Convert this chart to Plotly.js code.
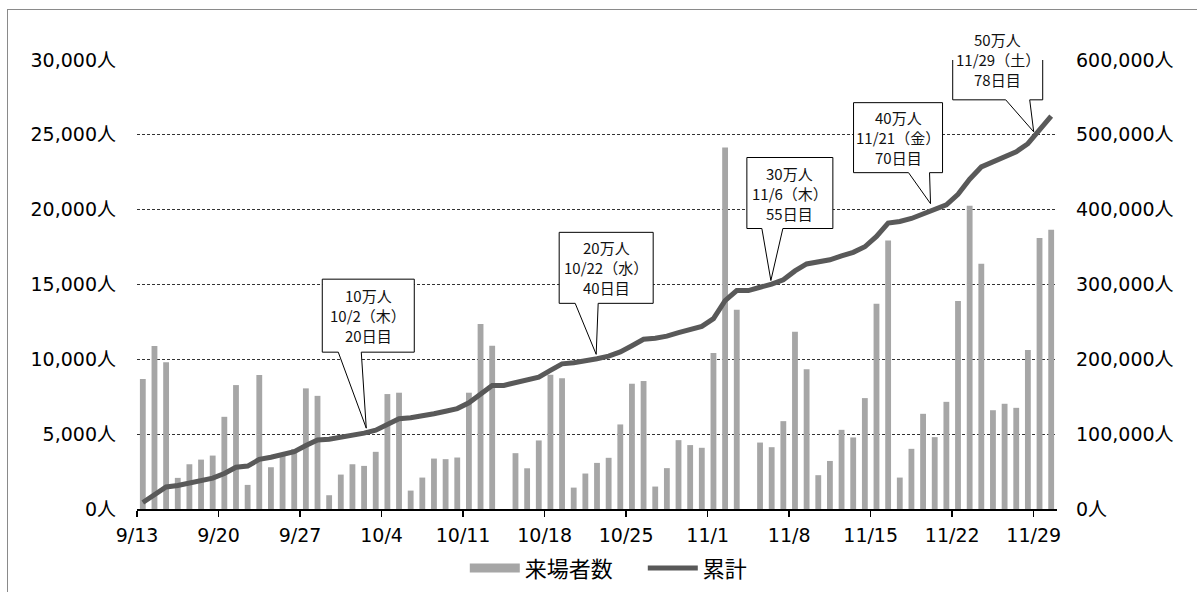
<!DOCTYPE html>
<html>
<head>
<meta charset="utf-8">
<script src="https://cdn.plot.ly/plotly-3.0.1.min.js"></script>
<style>
  html, body { margin: 0; padding: 0; background: #fff; }
  #wrap { position: relative; width: 1197px; height: 592px; }
  #chart { width: 1197px; height: 592px; }
  #frame { position: absolute; left: 7px; top: 9px; width: 1300px; height: 700px;
           border-left: 1px solid #8a8a8a; border-top: 1px solid #8a8a8a; pointer-events: none; }
</style>
</head>
<body>
<div id="wrap">
  <div id="chart"></div>
  <div id="frame"></div>
</div>
<script>
// ---- data ----
const dates = [
  '2014-09-13','2014-09-14','2014-09-15','2014-09-16','2014-09-17','2014-09-18','2014-09-19',
  '2014-09-20','2014-09-21','2014-09-22','2014-09-23','2014-09-24','2014-09-25','2014-09-26',
  '2014-09-27','2014-09-28','2014-09-29','2014-09-30','2014-10-01','2014-10-02','2014-10-03',
  '2014-10-04','2014-10-05','2014-10-06','2014-10-07','2014-10-08','2014-10-09','2014-10-10',
  '2014-10-11','2014-10-12','2014-10-13','2014-10-14','2014-10-15','2014-10-16','2014-10-17',
  '2014-10-18','2014-10-19','2014-10-20','2014-10-21','2014-10-22','2014-10-23','2014-10-24',
  '2014-10-25','2014-10-26','2014-10-27','2014-10-28','2014-10-29','2014-10-30','2014-10-31',
  '2014-11-01','2014-11-02','2014-11-03','2014-11-04','2014-11-05','2014-11-06','2014-11-07',
  '2014-11-08','2014-11-09','2014-11-10','2014-11-11','2014-11-12','2014-11-13','2014-11-14',
  '2014-11-15','2014-11-16','2014-11-17','2014-11-18','2014-11-19','2014-11-20','2014-11-21',
  '2014-11-22','2014-11-23','2014-11-24','2014-11-25','2014-11-26','2014-11-27','2014-11-28',
  '2014-11-29','2014-11-30'
];
const visitors = [
  8680,10890,9800,2080,2990,3300,3570,
  6160,8280,1610,8950,2790,3600,4000,
  8060,7560,920,2300,2990,2880,3820,
  7680,7770,1230,2100,3370,3330,3440,
  7770,12360,10910,0,3730,2720,4580,
  8970,8730,1430,2370,3080,3420,5650,
  8370,8550,1500,2730,4600,4270,4090,
  10420,24160,13320,0,4440,4130,5870,
  11850,9330,2260,3210,5290,4780,7410,
  13720,17940,2100,4020,6360,4800,7160,
  13900,20260,16380,6600,7030,6760,10620,
  18100,18660
];
const cumulative = [
  8680,19570,29370,31450,34440,37740,41310,
  47470,55750,57360,66310,69100,72700,76700,
  84760,92320,93240,95540,98530,101410,105230,
  112910,120680,121910,124010,127380,130710,134150,
  141920,154280,165190,165190,168920,171640,176220,
  185190,193920,195350,197720,200800,204220,209870,
  218240,226790,228290,231020,235620,239890,243980,
  254400,278560,291880,291880,296320,300450,306320,
  318170,327500,329760,332970,338260,343040,350450,
  364170,382110,384210,388230,394590,399390,406550,
  420450,440710,457090,463690,470720,477480,488100,
  506200,524860
];
const tickDates  = ['2014-09-13','2014-09-20','2014-09-27','2014-10-04','2014-10-11','2014-10-18',
                    '2014-10-25','2014-11-01','2014-11-08','2014-11-15','2014-11-22','2014-11-29'];
const tickLabels = ['9/13','9/20','9/27','10/4','10/11','10/18','10/25','11/1','11/8','11/15','11/22','11/29'];
const seriesNames = ['来場者数', '累計'];

// milestones (callouts)
const milestoneDates  = ['2014-10-02','2014-10-22','2014-11-06','2014-11-21','2014-11-29'];
const milestoneValues = [100000, 200000, 300000, 400000, 500000];
const milestoneTexts  = [
  ['10万人', '10/2（木）', '20日目'],
  ['20万人', '10/22（水）', '40日目'],
  ['30万人', '11/6（木）', '55日目'],
  ['40万人', '11/21（金）', '70日目'],
  ['50万人', '11/29（土）', '78日目']
];

// ---- styling / callout geometry (pixels, relative to the anchor, y up) ----
const calloutGeom = [
  {tip:[8,6],   box:[-36,56,  82,155], wedge:[-20,3]},
  {tip:[5,5],   box:[-32,62,  56,127], wedge:[-16,7]},
  {tip:[5,4],   box:[-19,67,  56,127], wedge:[-4,17]},
  {tip:[-10,6], box:[-87,2,   37,107], wedge:[-32,-11]},
  {tip:[0,3],   box:[-81,9,   35,115], wedge:[-28,-4]}
];

const BAR = '#a6a6a6';
const LINE = '#595959';
const FONT = '"Noto Sans CJK JP", "Noto Sans", sans-serif';
const TICKFONT = '"DejaVu Sans", "Noto Sans CJK JP", sans-serif';
const DAY = 86400000;

const traces = [
  {
    type: 'bar', x: dates, y: visitors, name: seriesNames[0],
    xperiod: DAY, xperiodalignment: 'middle',
    marker: {color: BAR, line: {width: 0}},
    showlegend: false, hoverinfo: 'x+y'
  },
  {
    // legend entry for the bars (drawn as a wide flat swatch like the original)
    type: 'scatter', mode: 'lines', x: [null], y: [null], name: seriesNames[0],
    line: {color: BAR, width: 9}, showlegend: true, hoverinfo: 'skip'
  },
  {
    type: 'scatter', mode: 'lines', x: dates, y: cumulative, name: seriesNames[1],
    xperiod: DAY, xperiodalignment: 'middle', yaxis: 'y2',
    line: {color: LINE, width: 5}, showlegend: true
  }
];

const shapes = [];
const annotations = [];
milestoneDates.forEach((d, i) => {
  const g = calloutGeom[i];
  const [tx, ty] = g.tip;
  const [x0, x1, yb, yt] = g.box;
  const [wl, wr] = g.wedge;
  shapes.push({
    type: 'path', xref: 'x', yref: 'y2',
    xsizemode: 'pixel', ysizemode: 'pixel',
    xanchor: d, yanchor: milestoneValues[i],
    path: `M${tx},${ty} L${wr},${yb} L${x1},${yb} L${x1},${yt} L${x0},${yt} L${x0},${yb} L${wl},${yb} Z`,
    fillcolor: '#ffffff', line: {color: '#000000', width: 1}, layer: 'above'
  });
  const cx = (x0 + x1) / 2, cy = (yb + yt) / 2;
  milestoneTexts[i].forEach((t, k) => {
    annotations.push({
      x: d, y: milestoneValues[i], xref: 'x', yref: 'y2',
      text: t, showarrow: false,
      xshift: cx, yshift: cy + (1 - k) * 20,
      xanchor: 'center', yanchor: 'middle',
      font: {family: FONT, size: 15, color: '#111'}
    });
  });
});

const layout = {
  width: 1197, height: 592,
  margin: {l: 137, r: 140, t: 60, b: 83, pad: 0, autoexpand: false},
  paper_bgcolor: '#fff', plot_bgcolor: '#fff',
  font: {family: FONT, color: '#000', size: 20},
  bargap: 0.5,
  showlegend: true,
  legend: {
    orientation: 'h', x: 0.3563, xanchor: 'left', y: -0.132, yanchor: 'middle',
    font: {family: FONT, size: 22, color: '#000'}, itemwidth: 50,
    entrywidth: 113, entrywidthmode: 'pixels',
    bgcolor: 'rgba(0,0,0,0)', tracegroupgap: 0
  },
  xaxis: {
    type: 'date', range: ['2014-09-13', '2014-12-01'],
    tickmode: 'array', tickvals: tickDates, ticktext: tickLabels,
    ticks: 'outside', ticklen: 6, tickwidth: 1.5, tickcolor: '#000',
    showline: true, linecolor: '#000', linewidth: 1.5,
    showgrid: false, zeroline: false,
    tickfont: {family: TICKFONT, size: 19, color: '#000'},
    ticklabelstandoff: 3
  },
  yaxis: {
    range: [0, 30000], tickmode: 'linear', tick0: 0, dtick: 5000,
    tickformat: ',d', ticksuffix: '人',
    showgrid: true, gridcolor: '#333', gridwidth: 1, griddash: '3px,2px',
    zeroline: false, showline: false, ticks: '',
    ticklabelstandoff: 20,
    tickfont: {family: TICKFONT, size: 19, color: '#000'}
  },
  yaxis2: {
    overlaying: 'y', side: 'right',
    range: [0, 600000], tickmode: 'linear', tick0: 0, dtick: 100000,
    tickformat: ',d', ticksuffix: '人',
    showgrid: false, zeroline: false, showline: false, ticks: '',
    ticklabelstandoff: 18,
    tickfont: {family: TICKFONT, size: 19, color: '#000'}
  },
  shapes: shapes,
  annotations: annotations
};

Plotly.newPlot('chart', traces, layout, {displayModeBar: false, responsive: false, staticPlot: true});
</script>
</body>
</html>
